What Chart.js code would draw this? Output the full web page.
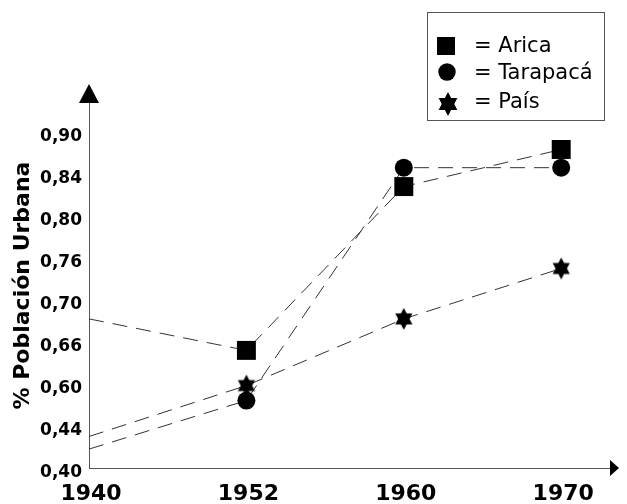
<!DOCTYPE html>
<html>
<head>
<meta charset="utf-8">
<script src="https://cdn.jsdelivr.net/npm/chart.js@4.4.0/dist/chart.umd.min.js"></script>
<style>
  html, body { margin: 0; padding: 0; background: #fff; }
  #wrap { width: 627px; height: 504px; }
</style>
</head>
<body>
<div id="wrap"><canvas id="grafico" width="627" height="504"></canvas></div>
<script>
// datos
const anos = ["1940", "1952", "1960", "1970"];
const yTickValores = [0.40, 0.44, 0.60, 0.66, 0.70, 0.76, 0.80, 0.84, 0.90];
const yTickTextos = ["0,40", "0,44", "0,60", "0,66", "0,70", "0,76", "0,80", "0,84", "0,90"];

const arica    = [0.682, 0.648, 0.828, 0.875];
const tarapaca = [0.418, 0.537, 0.849, 0.849];
const pais     = [0.430, 0.594, 0.682, 0.745];

const leyenda = ["= Arica", "= Tarapacá", "= País"];

const FUENTE = "'DejaVu Sans', Verdana, sans-serif";

// el eje Y no es lineal: cada etiqueta ocupa el mismo espacio
function aEje(v) {
    for (let k = 0; k < yTickValores.length - 1; k++) {
        const a = yTickValores[k], b = yTickValores[k + 1];
        if (v <= b || k === yTickValores.length - 2) {
            return k + (v - a) / (b - a);
        }
    }
    return 0;
}

function serie(valores) {
    return valores.map((v, i) => ({ x: i, y: aEje(v) }));
}

// estrella de seis puntas
function crearEstrella(R, escalaX) {
    const c = document.createElement("canvas");
    const s = Math.ceil(2 * R) + 2;
    c.width = s; c.height = s;
    const g = c.getContext("2d");
    g.fillStyle = "#000";
    g.translate(s / 2, s / 2);
    g.scale(escalaX, 1);
    [-Math.PI / 2, Math.PI / 2].forEach(rot => {
        g.beginPath();
        for (let i = 0; i < 3; i++) {
            const a = rot + i * 2 * Math.PI / 3;
            const px = R * Math.cos(a), py = R * Math.sin(a);
            if (i) g.lineTo(px, py); else g.moveTo(px, py);
        }
        g.closePath();
        g.fill();
    });
    return c;
}

const estrella = crearEstrella(11, 0.9);
const estrellaLeyenda = crearEstrella(12, 0.9);

// flechas de los ejes y recuadro de leyenda
const extras = {
    id: "extras",
    afterDraw(chart) {
        const ctx = chart.ctx;
        const a = chart.chartArea;
        ctx.save();
        ctx.fillStyle = "#000";

        ctx.beginPath();
        ctx.moveTo(a.left, a.top - 19);
        ctx.lineTo(a.left - 10, a.top);
        ctx.lineTo(a.left + 10, a.top);
        ctx.closePath();
        ctx.fill();

        ctx.beginPath();
        ctx.moveTo(a.right + 9, a.bottom);
        ctx.lineTo(a.right, a.bottom - 8);
        ctx.lineTo(a.right, a.bottom + 8);
        ctx.closePath();
        ctx.fill();

        // leyenda
        ctx.strokeStyle = "#555";
        ctx.lineWidth = 1;
        ctx.strokeRect(427.5, 12.5, 177, 108);

        ctx.fillRect(437, 37, 18, 18);
        ctx.beginPath();
        ctx.arc(447, 72, 8.7, 0, Math.PI * 2);
        ctx.fill();
        ctx.drawImage(estrellaLeyenda, 448 - estrellaLeyenda.width / 2, 104 - estrellaLeyenda.height / 2);

        ctx.font = "21px " + FUENTE;
        ctx.textBaseline = "middle";
        ctx.textAlign = "left";
        ctx.fillText(leyenda[0], 474, 47);
        ctx.fillText(leyenda[1], 474, 74);
        ctx.fillText(leyenda[2], 474, 103);
        ctx.restore();
    }
};

const linea = {
    borderColor: "#333",
    borderWidth: 1,
    borderDash: [15, 9],
    pointBackgroundColor: "#000",
    pointBorderWidth: 0,
    pointHoverRadius: 0,
    fill: false,
    tension: 0
};

new Chart(document.getElementById("grafico"), {
    type: "line",
    data: {
        datasets: [
            Object.assign({ label: "Arica", data: serie(arica),
                pointStyle: "rect", pointRadius: [0, 13.4, 13.4, 13.4] }, linea),
            Object.assign({ label: "Tarapacá", data: serie(tarapaca),
                pointStyle: "circle", pointRadius: [0, 9, 9, 9] }, linea),
            Object.assign({ label: "País", data: serie(pais),
                pointStyle: estrella, pointRadius: [0, 10, 10, 10] }, linea)
        ]
    },
    options: {
        responsive: false,
        animation: false,
        devicePixelRatio: 1,
        layout: { padding: { top: 103, right: 17, left: 0, bottom: 0 } },
        plugins: {
            legend: { display: false },
            tooltip: { enabled: false }
        },
        scales: {
            x: {
                type: "linear",
                min: 0,
                max: 3.31,
                afterFit: s => { s.height = 36; },
                afterBuildTicks: s => { s.ticks = anos.map((t, i) => ({ value: i })); },
                grid: { display: false, drawTicks: false },
                border: { display: true, color: "#555", width: 1 },
                ticks: {
                    padding: 13,
                    labelOffset: 2,
                    color: "#000",
                    font: { family: FUENTE, size: 22, weight: "bold" },
                    callback: v => anos[v]
                }
            },
            y: {
                type: "linear",
                min: 0,
                max: 8.69,
                afterFit: s => { s.width = 89; },
                afterBuildTicks: s => { s.ticks = yTickTextos.map((t, i) => ({ value: i })); },
                grid: { display: false, drawTicks: false },
                border: { display: true, color: "#555", width: 1 },
                ticks: {
                    padding: 7,
                    labelOffset: 4.5,
                    color: "#000",
                    font: { family: FUENTE, size: 17, weight: "bold" },
                    callback: v => yTickTextos[v]
                },
                title: {
                    display: true,
                    text: "% Población Urbana",
                    color: "#000",
                    padding: { top: 10, bottom: 0 },
                    font: { family: FUENTE, size: 22, weight: "bold" }
                }
            }
        }
    },
    plugins: [extras]
});
</script>
</body>
</html>
